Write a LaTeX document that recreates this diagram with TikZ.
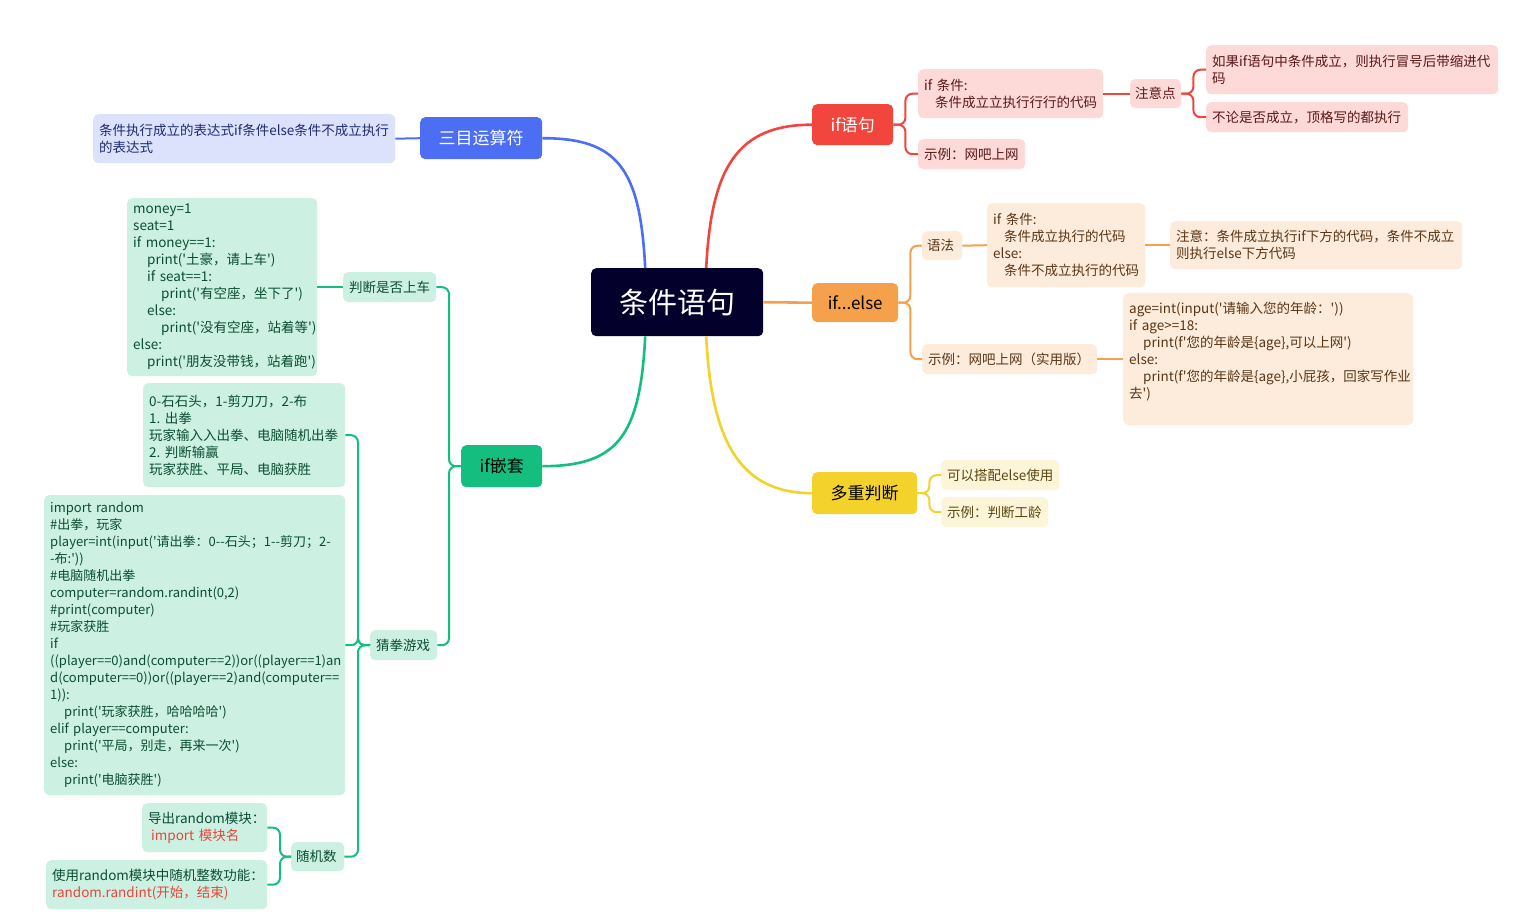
\documentclass[tikz,border=0pt]{standalone}
\usepackage{fontspec}
\setmainfont{Noto Sans CJK SC}
\newcommand\sq{\textquotesingle}
\definecolor{cR}{HTML}{F2453D}
\definecolor{cO}{HTML}{F5A04B}
\definecolor{cY}{HTML}{F2D22B}
\definecolor{cG}{HTML}{13BE7E}
\definecolor{cB}{HTML}{4C6EF5}
\definecolor{cC}{HTML}{03002B}
\definecolor{lR}{HTML}{FDD9D8}
\definecolor{lO}{HTML}{FDEBDB}
\definecolor{lY}{HTML}{FDF5D8}
\definecolor{lG}{HTML}{CCF1E2}
\definecolor{lB}{HTML}{DCE2FC}
\definecolor{tR}{HTML}{5A1815}
\definecolor{tO}{HTML}{5A3616}
\definecolor{tY}{HTML}{5A4710}
\definecolor{tG}{HTML}{0B4D33}
\definecolor{tB}{HTML}{1E2B70}
\definecolor{codered}{HTML}{E8453C}
\begin{document}
\begin{tikzpicture}[x=1pt,y=-1pt,
  mainbox/.style={anchor=north west, rounded corners=5pt, inner sep=0pt, align=center, font=\fontsize{17}{20}\selectfont},
  kid/.style={anchor=north west, rounded corners=5pt, inner xsep=6pt, inner ysep=2pt, align=left, font=\fontsize{13.5}{17}\selectfont\frenchspacing},
  rk/.style={kid, fill=lR, text=tR},
  ok/.style={kid, fill=lO, text=tO},
  yk/.style={kid, fill=lY, text=tY},
  gk/.style={kid, fill=lG, text=tG},
  bk/.style={kid, fill=lB, text=tB},
  rl/.style={draw=cR, line width=2pt, rounded corners=7pt},
  ol/.style={draw=cO, line width=2pt, rounded corners=7pt},
  yl/.style={draw=cY, line width=2pt, rounded corners=7pt},
  gl/.style={draw=cG, line width=2pt, rounded corners=7pt},
  bl/.style={draw=cB, line width=2pt, rounded corners=7pt},
  trunk/.style={line width=2.6pt}
]
\fill[white] (0,0) rectangle (1513,923);
\useasboundingbox (0,0) rectangle (1513,923);

% central and main branches
\node[mainbox, fill=cC, text=white, minimum width=172pt, minimum height=68pt, font=\fontsize{29}{32}\selectfont] (ctr) at (591,268) {条件语句};
\node[mainbox, fill=cR, text=white, minimum width=81pt, minimum height=41pt] (ifyu) at (812,104) {if语句};
\node[mainbox, fill=cO, text=black, minimum width=86pt, minimum height=39pt] (ifelse) at (812,283) {if...else};
\node[mainbox, fill=cY, text=black, minimum width=105pt, minimum height=42pt] (multi) at (812,472) {多重判断};
\node[mainbox, fill=cG, text=black, minimum width=81pt, minimum height=42pt] (nest) at (461,445) {if嵌套};
\node[mainbox, fill=cB, text=white, minimum width=122pt, minimum height=42pt] (tern) at (420,117) {三目运算符};

\draw[cR, trunk] ([xshift=29pt]ctr.north) .. controls +(5,-100) and +(-75,0) .. (ifyu.west);
\draw[cB, trunk] ([xshift=-32pt]ctr.north) .. controls +(-5,-100) and +(75,0) .. (tern.east);
\draw[cG, trunk] ([xshift=-32pt]ctr.south) .. controls +(-5,100) and +(75,0) .. (nest.east);
\draw[cY, trunk] ([xshift=29pt]ctr.south) .. controls +(5,100) and +(-75,0) .. (multi.west);
\draw[cO, trunk] (ctr.east) -- (ifelse.west);

% red branch
\node[rk, text width=173pt, minimum height=49pt] (ifc) at (918,69) {if 条件:\\\hspace*{11pt}条件成立立执行行行的代码};
\node[rk, text width=95pt, minimum height=30pt] (ex1) at (918,139) {示例：网吧上网};
\node[rk, text width=41pt, minimum height=29pt, inner xsep=5pt] (note) at (1130,79) {注意点};
\node[rk, text width=280pt, minimum height=49pt] (ru) at (1206,45) {如果if语句中条件成立，则执行冒号后带缩进代\\码};
\node[rk, text width=190pt, minimum height=30pt] (bu) at (1206,102) {不论是否成立，顶格写的都执行};
\draw[rl] (ifyu.east) -- ++(12,0) |- (ifc.west);
\draw[rl] (ifyu.east) -- ++(12,0) |- (ex1.west);
\draw[rl] (ifc.east) -- (note.west);
\draw[rl] (note.east) -- ++(12,0) |- (ru.west);
\draw[rl] (note.east) -- ++(12,0) |- (bu.west);

% orange branch
\node[ok, text width=30pt, minimum height=29pt, inner xsep=5pt] (yufa) at (922,231) {语法};
\node[ok, text width=146pt, minimum height=84pt] (syn) at (987,203) {if 条件:\\\hspace*{11pt}条件成立执行的代码\\else:\\\hspace*{11pt}条件不成立执行的代码};
\node[ok, text width=280pt, minimum height=48pt] (zhuyi) at (1170,221) {注意：条件成立执行if下方的代码，条件不成立\\则执行else下方代码};
\node[ok, text width=163pt, minimum height=30pt] (ex2) at (922,344) {示例：网吧上网（实用版）};
\node[ok, text width=278pt, minimum height=132pt] (code2) at (1123,293) {age=int(input(\sq{}请输入您的年龄：\sq{}))\\if age>=18:\\\hspace*{14pt}print(f\sq{}您的年龄是\{age\},可以上网\sq{})\\else:\\\hspace*{14pt}print(f\sq{}您的年龄是\{age\},小屁孩，回家写作业\\去\sq{})\\\mbox{}};
\draw[ol] (ifelse.east) -- ++(12,0) |- (yufa.west);
\draw[ol] (ifelse.east) -- ++(12,0) |- (ex2.west);
\draw[ol] (yufa.east) -- (syn.west);
\draw[ol] (syn.east) -- (zhuyi.west);
\draw[ol] (ex2.east) -- (code2.west);

% yellow branch
\node[yk, text width=106pt, minimum height=30pt] (ky) at (941,460) {可以搭配else使用};
\node[yk, text width=95pt, minimum height=30pt] (ex3) at (941,497) {示例：判断工龄};
\draw[yl] (multi.east) -- ++(12,0) |- (ky.west);
\draw[yl] (multi.east) -- ++(12,0) |- (ex3.west);

% blue branch
\node[bk, text width=290pt, minimum height=49pt] (tbox) at (93,114) {条件执行成立的表达式if条件else条件不成立执行\\的表达式};
\draw[bl] (tern.west) -- (tbox.east);

% green branch
\node[gk, text width=81pt, minimum height=30pt] (pd) at (343,272) {判断是否上车};
\node[gk, text width=178pt, minimum height=178pt] (code1) at (127,198) {money=1\\seat=1\\if money==1:\\\hspace*{14pt}print(\sq{}土豪，请上车\sq{})\\\hspace*{14pt}if seat==1:\\\hspace*{28pt}print(\sq{}有空座，坐下了\sq{})\\\hspace*{14pt}else:\\\hspace*{28pt}print(\sq{}没有空座，站着等\sq{})\\else:\\\hspace*{14pt}print(\sq{}朋友没带钱，站着跑\sq{})};
\node[gk, text width=55pt, minimum height=30pt] (cq) at (370,630) {猜拳游戏};
\node[gk, text width=190pt, minimum height=104pt] (rule) at (143,383) {0-石石头，1-剪刀刀，2-布\\1. 出拳\\玩家输入入出拳、电脑随机出拳\\2. 判断输赢\\玩家获胜、平局、电脑获胜};
\node[gk, text width=289pt, minimum height=300pt, font=\fontsize{13}{17}\selectfont\frenchspacing] (code3) at (44,495) {import random\\\#出拳，玩家\\\mbox{player=int(input(\sq{}请出拳：0-{}-石头；1-{}-剪刀；2-}\\\mbox{-布:\sq{}))}\\\#电脑随机出拳\\computer=random.randint(0,2)\\\#print(computer)\\\#玩家获胜\\if\\\mbox{((player==0)and(computer==2))or((player==1)an}\\\mbox{d(computer==0))or((player==2)and(computer==}\\1)):\\\hspace*{14pt}print(\sq{}玩家获胜，哈哈哈哈\sq{})\\elif player==computer:\\\hspace*{14pt}print(\sq{}平局，别走，再来一次\sq{})\\else:\\\hspace*{14pt}print(\sq{}电脑获胜\sq{})};
\node[gk, text width=43pt, minimum height=29pt, inner xsep=5pt] (sj) at (291,842) {随机数};
\node[gk, text width=113pt, minimum height=49pt] (dc) at (142,803) {导出random模块：\\\hspace*{3pt}\textcolor{codered}{import 模块名}};
\node[gk, text width=209pt, minimum height=49pt] (sy) at (46,860) {使用random模块中随机整数功能：\\\textcolor{codered}{random.randint(开始，结束)}};
\draw[gl] (nest.west) -- ++(-12,0) |- (pd.east);
\draw[gl] (nest.west) -- ++(-12,0) |- (cq.east);
\draw[gl] (pd.west) -- (code1.east);
\draw[gl] (cq.west) -- ++(-12,0) |- (rule.east);
\draw[gl] (cq.west) -- ++(-12,0) |- (code3.east);
\draw[gl] (cq.west) -- ++(-12,0) |- (sj.east);
\draw[gl] (sj.west) -- ++(-11,0) |- (dc.east);
\draw[gl] (sj.west) -- ++(-11,0) |- (sy.east);
\end{tikzpicture}
\end{document}
